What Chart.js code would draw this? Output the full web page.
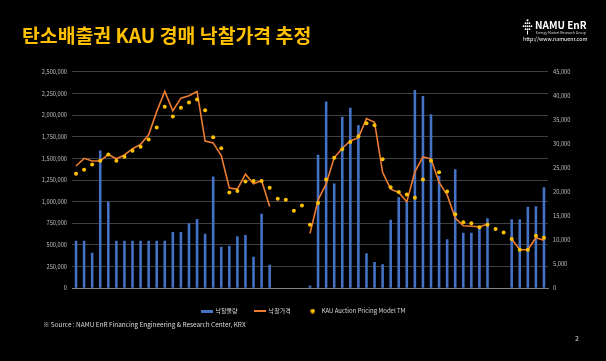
<!DOCTYPE html>
<html>
<head>
<meta charset="utf-8">
<script src="https://cdn.jsdelivr.net/npm/chart.js@4.4.1/dist/chart.umd.min.js"></script>
<style>
html,body{margin:0;padding:0;background:#000;}
#wrap{position:relative;width:606px;height:361px;background:#000;overflow:hidden;font-family:"Noto Sans CJK KR","Noto Sans",sans-serif;}
#c{position:absolute;left:0;top:0;}
.title{position:absolute;left:22px;top:24.5px;font-weight:bold;font-size:19.4px;line-height:1;color:#FFC000;white-space:nowrap;}
.logo1{position:absolute;left:535px;top:19.5px;font-weight:bold;font-size:10px;line-height:1;color:#fff;white-space:nowrap;}
.logo2{position:absolute;left:536px;top:30.5px;font-size:3.5px;line-height:1;color:#ddd;white-space:nowrap;}
.logo3{position:absolute;left:523px;top:36.5px;font-size:5.3px;line-height:1;color:#fff;white-space:nowrap;}
.icon{position:absolute;left:522px;top:19px;}
.src{position:absolute;left:43px;top:322px;font-size:6.4px;line-height:1;color:#d9d9d9;white-space:nowrap;}
.pg{position:absolute;left:575px;top:335px;font-size:7px;line-height:1;color:#d9d9d9;}
</style>
</head>
<body>
<div id="wrap">
  <canvas id="c" width="606" height="361"></canvas>
  <div class="title">탄소배출권 KAU 경매 낙찰가격 추정</div>
  <svg class="icon" width="11" height="16" viewBox="0 0 11 16">
    <g fill="#fff">
      <circle cx="5.5" cy="1.2" r="1"/>
      <circle cx="3.5" cy="4.2" r="0.9"/><circle cx="5.5" cy="4.2" r="0.9"/><circle cx="7.5" cy="4.2" r="0.9"/>
      <circle cx="1.5" cy="7.2" r="0.9"/><circle cx="3.5" cy="7.2" r="0.9"/><circle cx="5.5" cy="7.2" r="0.9"/><circle cx="7.5" cy="7.2" r="0.9"/><circle cx="9.5" cy="7.2" r="0.9"/>
      <circle cx="3.5" cy="10.2" r="0.9"/><circle cx="5.5" cy="10.2" r="0.9"/><circle cx="7.5" cy="10.2" r="0.9"/>
      <rect x="5" y="11.5" width="1" height="4"/>
    </g>
  </svg>
  <div class="logo1">NAMU EnR</div>
  <div class="logo2">Energy Market Research Group</div>
  <div class="logo3">http://www.namuenr.com</div>
  <div class="src">※ Source : NAMU EnR Financing Engineering &amp; Research Center, KRX</div>
  <div class="pg">2</div>
</div>
<script>
// auction dates (categories); every third one is shown on the axis
const dates = [
  '19.01.23','19.02.20','19.03.13','19.04.10','19.05.08','19.06.12','19.07.10','19.08.14','19.09.11','19.10.08','19.11.13','19.12.11',
  '20.01.08','20.02.12','20.03.11','20.04.08','20.05.13','20.06.10','20.07.08','20.08.12','20.09.09','20.10.14','20.11.11','20.12.09',
  '21.01.13','21.02.10','21.03.10','21.04.21','21.05.12','21.06.09','21.07.14','21.08.11','21.09.08','21.10.13','21.11.10','21.12.08',
  '22.01.12','22.02.09','22.03.09','22.04.13','22.05.11','22.06.08','22.07.13','22.08.10','22.09.14','22.10.12','22.11.09','22.12.14',
  '23.01.11','23.02.08','23.03.08','23.04.12','23.05.10','23.06.14','23.07.12','23.08.09','23.09.13','23.10.11','23.11.08'
];
// 낙찰물량 (left axis, tons)
const volume = [
  550000,550000,410000,1590000,1000000,550000,550000,550000,550000,550000,550000,550000,
  650000,650000,750000,800000,630000,1290000,480000,490000,600000,615000,365000,860000,
  273000,null,null,null,null,31000,1540000,2155000,1210000,1980000,2085000,1885000,
  404000,304000,277000,790000,1050000,1000000,2290000,2220000,2010000,1300000,567000,1375000,
  642000,642000,700000,808000,null,null,796000,796000,942000,946000,1165000
];
// 낙찰가격 (right axis, KRW)
const price = [
  25400,27000,26450,26450,27800,26900,27700,29000,29900,31900,36700,40900,
  36900,39500,40000,40900,30600,30200,27600,20850,20600,23700,21700,22400,
  17000,null,null,null,null,11400,18350,21700,27100,29100,30600,31300,
  35250,34500,24100,20600,19900,18000,24200,27300,26900,22000,19400,14600,
  13000,12900,12800,13300,null,null,10250,8000,8000,10500,10000
];
// KAU Auction Pricing Model TM (right axis, KRW)
const model = [
  23800,24650,25700,26500,27800,26500,27350,28600,29400,30900,33400,37700,
  35700,37500,38600,39200,37000,31400,29100,19900,20200,22200,22300,22300,
  20900,18600,18400,16100,17200,13200,17700,22600,27100,28900,30400,31600,
  34300,33900,26800,21000,20000,19500,18800,22600,26500,24100,20100,15400,
  13700,13500,12700,13200,12300,11600,10250,8000,8000,10900,10500
];
const seriesNames = ['낙찰물량','낙찰가격','KAU Auction Pricing Model TM'];
const volumeAxis = {min:0, max:2500000, step:250000};
const priceAxis = {min:0, max:45000, step:5000};

const BLUE = '#4472C4', ORANGE = '#ED7D31', YELLOW = '#FFC000';
const FONT = '"Noto Sans CJK KR","Noto Sans",sans-serif';

function swatch(w, h, draw){
  const c = document.createElement('canvas'); c.width = w; c.height = h;
  draw(c.getContext('2d')); return c;
}
const swBar = swatch(12, 3, g => { g.fillStyle = BLUE; g.fillRect(0,0,12,3); });
const swLine = swatch(12, 2, g => { g.fillStyle = ORANGE; g.fillRect(0,0,12,2); });
const swDot = swatch(5, 5, g => { g.fillStyle = YELLOW; g.beginPath(); g.arc(2.5,2.5,2.2,0,Math.PI*2); g.fill(); });
const swatches = [swBar, swLine, swDot];

const fmt = v => Number(v).toLocaleString('en-US');

new Chart(document.getElementById('c'), {
  data: {
    labels: dates,
    datasets: [
      {type:'bar', label:seriesNames[0], data:volume, backgroundColor:BLUE, yAxisID:'y', order:3,
       barPercentage:0.32, categoryPercentage:1},
      {type:'line', label:seriesNames[1], data:price, borderColor:ORANGE, backgroundColor:ORANGE, borderWidth:1.6,
       pointRadius:0, yAxisID:'y1', order:2, spanGaps:false, tension:0},
      {type:'line', label:seriesNames[2], data:model, showLine:false, pointRadius:2, pointHoverRadius:2,
       pointBackgroundColor:YELLOW, pointBorderWidth:0, backgroundColor:YELLOW, yAxisID:'y1', order:1}
    ]
  },
  options: {
    responsive:false, animation:false,
    layout:{padding:{top:71.7, left:0, right:0, bottom:37}},
    scales:{
      x:{
        grid:{display:false, drawTicks:false},
        border:{display:true, color:'#808080', width:1},
        ticks:{autoSkip:false, maxRotation:0, minRotation:0, padding:3, color:'#bfbfbf',
               font:{family:FONT, size:5.2},
               callback:(v,i)=> i % 3 === 0 ? dates[i] : ''},
        afterFit:s=>{ s.height = 3.7; }
      },
      y:{
        position:'left', min:volumeAxis.min, max:volumeAxis.max,
        ticks:{stepSize:volumeAxis.step, padding:5, color:'#bfbfbf', font:{family:FONT, size:5.7}, callback:fmt},
        grid:{color:'#404040', lineWidth:1, drawTicks:false},
        border:{display:false},
        afterFit:s=>{ s.width = 72; }
      },
      y1:{
        position:'right', min:priceAxis.min, max:priceAxis.max,
        ticks:{stepSize:priceAxis.step, padding:5, color:'#bfbfbf', font:{family:FONT, size:5.7}, callback:fmt},
        grid:{display:false, drawTicks:false},
        border:{display:false},
        afterFit:s=>{ s.width = 58; }
      }
    },
    plugins:{
      tooltip:{enabled:false},
      legend:{
        position:'bottom',
        labels:{
          usePointStyle:true, pointStyleWidth:12, padding:16, color:'#d9d9d9',
          font:{family:FONT, size:6},
          generateLabels: chart => chart.data.datasets.map((ds,i)=>({
            text: ds.label, fillStyle: 'rgba(0,0,0,0)', strokeStyle:'rgba(0,0,0,0)', lineWidth:0,
            pointStyle: swatches[i], datasetIndex:i, hidden:false, fontColor:'#d9d9d9'
          }))
        }
      }
    }
  }
});
</script>
</body>
</html>
